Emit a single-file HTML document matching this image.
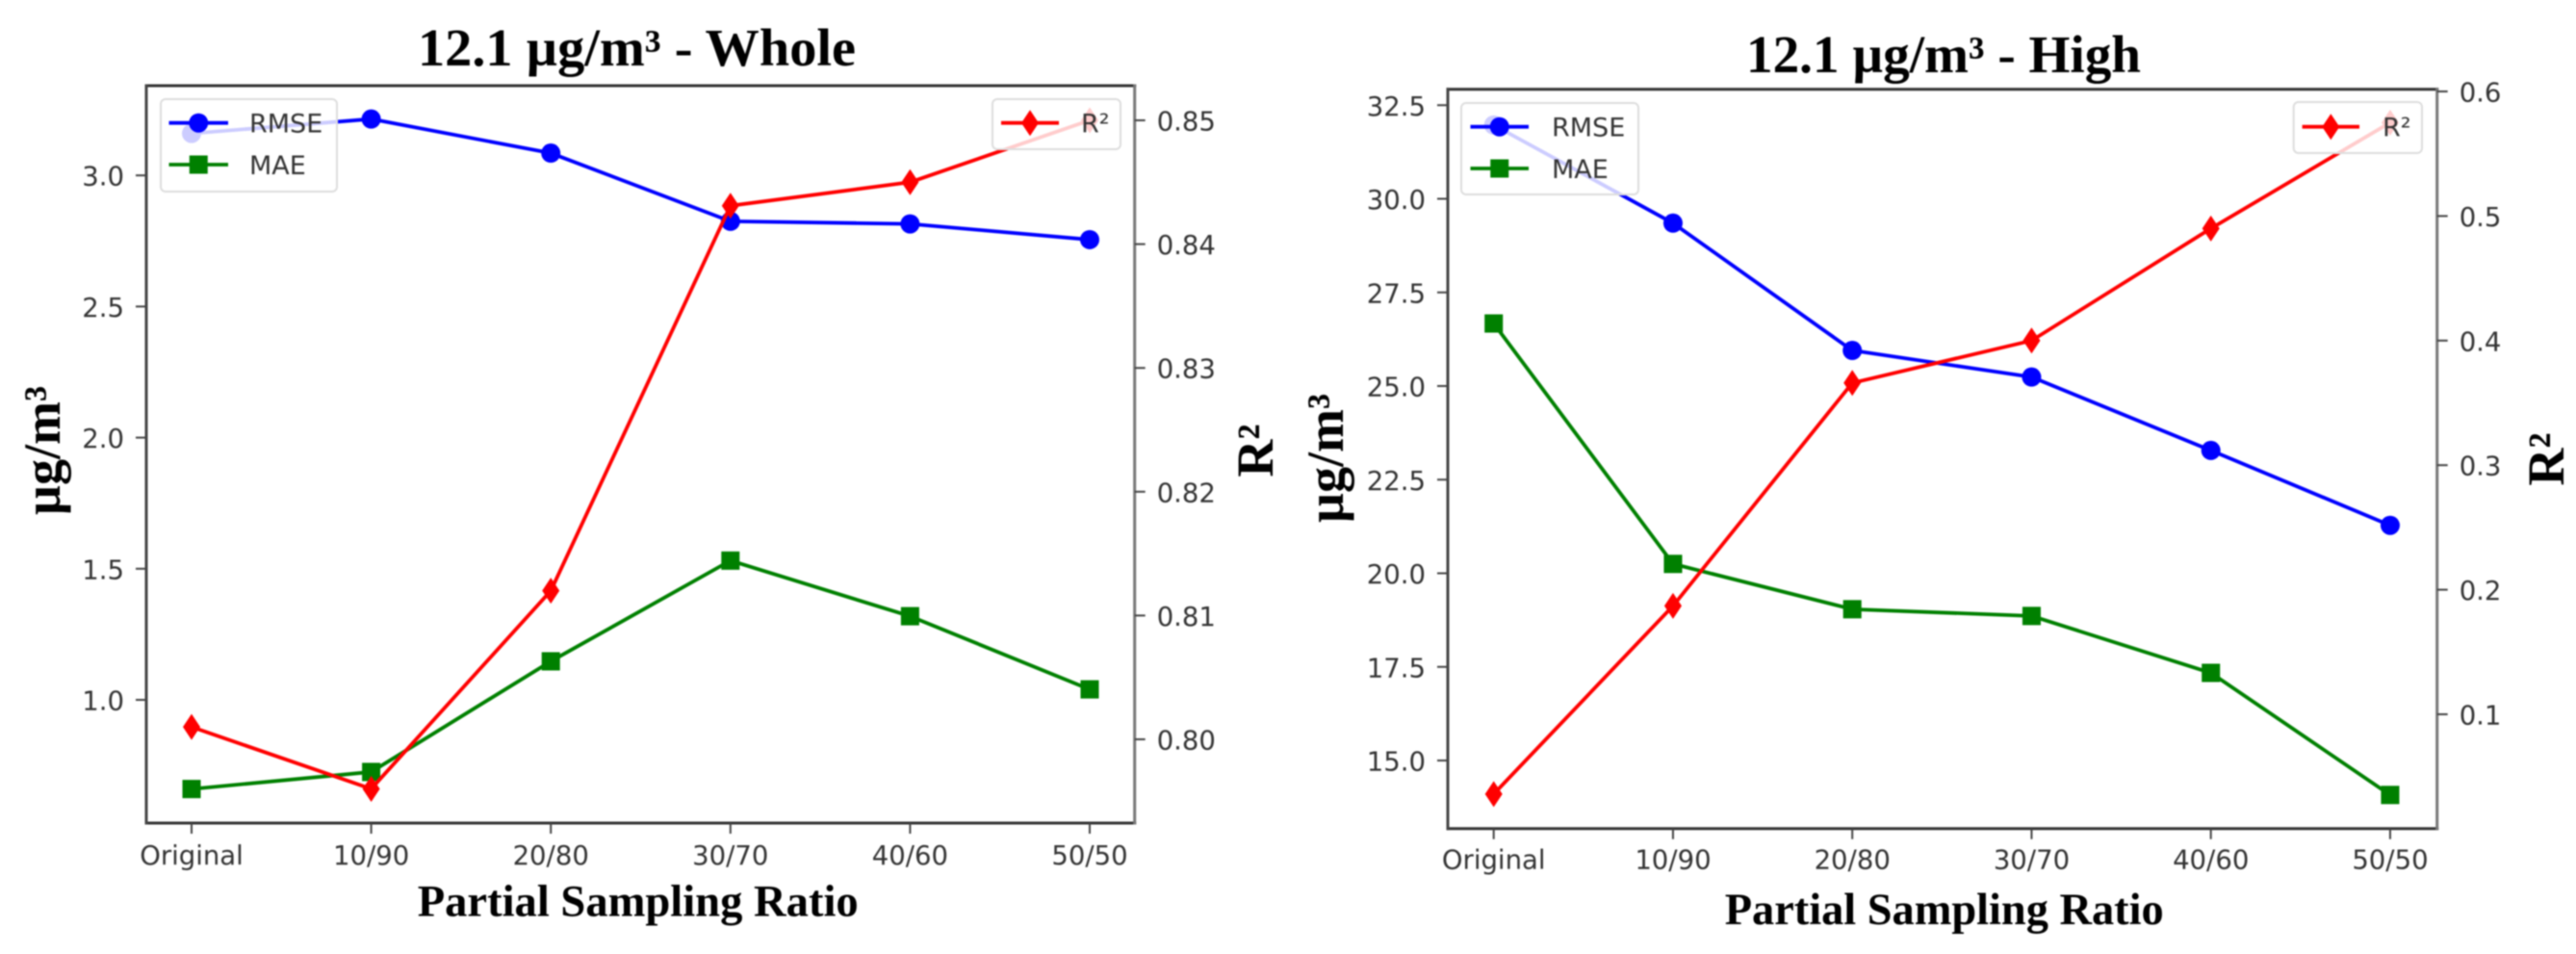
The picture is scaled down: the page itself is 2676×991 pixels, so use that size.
<!DOCTYPE html>
<html>
<head>
<meta charset="utf-8">
<title>12.1 µg/m³ partial sampling ratio charts</title>
<style>
html,body{margin:0;padding:0;background:#fff;}
#figure{display:block;width:2676px;height:991px;filter:blur(0.9px);}
.tick{font-family:"DejaVu Sans",sans-serif;font-size:27.5px;fill:#333;}
.leg{font-family:"DejaVu Sans",sans-serif;font-size:27px;fill:#333;}
.head{font-family:"Liberation Serif",serif;font-weight:bold;fill:#000;}
</style>
</head>
<body>
<svg id="figure" xmlns="http://www.w3.org/2000/svg" width="2676" height="991" viewBox="0 0 2676 991">
  <rect width="2676" height="991" fill="#fff"/>
  <text class="head" x="434" y="68" font-size="55" textLength="455" lengthAdjust="spacingAndGlyphs">12.1 µg/m³ - Whole</text>
  <text class="head" x="1814" y="75" font-size="55" textLength="410" lengthAdjust="spacingAndGlyphs">12.1 µg/m³ - High</text>
  <text class="head" x="433.7" y="951.7" font-size="47" textLength="458" lengthAdjust="spacingAndGlyphs">Partial Sampling Ratio</text>
  <text class="head" x="1791.7" y="960" font-size="47" textLength="456" lengthAdjust="spacingAndGlyphs">Partial Sampling Ratio</text>
  <text class="head" font-size="54" text-anchor="middle" transform="translate(62 468) rotate(-90)">µg/m³</text>
  <text class="head" font-size="54" text-anchor="middle" transform="translate(1395 476) rotate(-90)">µg/m³</text>
  <text class="head" font-size="54" text-anchor="middle" transform="translate(1322 468) rotate(-90)">R²</text>
  <text class="head" font-size="54" text-anchor="middle" transform="translate(2663 477) rotate(-90)">R²</text>
</svg>
<script>
const categories = ["Original", "10/90", "20/80", "30/70", "40/60", "50/50"];

const wholeRmse = [3.16, 3.215, 3.085, 2.825, 2.815, 2.755];
const wholeMae = [0.66, 0.725, 1.147, 1.531, 1.319, 1.04];
const wholeR2 = [0.801, 0.796, 0.812, 0.8431, 0.845, 0.85];

const highRmse = [31.97, 29.35, 25.95, 25.24, 23.28, 21.28];
const highMae = [26.67, 20.25, 19.04, 18.86, 17.34, 14.08];
const highR2 = [0.036, 0.187, 0.366, 0.4, 0.49, 0.575];

const wholeLeftTicks = ["1.0", "1.5", "2.0", "2.5", "3.0"];
const wholeRightTicks = ["0.80", "0.81", "0.82", "0.83", "0.84", "0.85"];
const highLeftTicks = ["15.0", "17.5", "20.0", "22.5", "25.0", "27.5", "30.0", "32.5"];
const highRightTicks = ["0.1", "0.2", "0.3", "0.4", "0.5", "0.6"];

function xWhole(i) { return 199 + i * 186.6; }
function yWholeLeft(v) { return 727 - (v - 1) * 272.4; }
function yWholeRight(v) { return 768 - (v - 0.8) * 12860; }
function xHigh(i) { return 1551.7 + i * 186.25; }
function yHighLeft(v) { return 790 - (v - 15) * 38.9; }
function yHighRight(v) { return 742 - (v - 0.1) * 1294; }

const svg = document.getElementById('figure');
const NS = 'http://www.w3.org/2000/svg';

function make(tag, props) {
  const el = document.createElementNS(NS, tag);
  for (const k in props) el.setAttribute(k, props[k]);
  svg.appendChild(el);
  return el;
}

function marker(shape, x, y, color) {
  let el;
  if (shape === 'circle') {
    el = make('circle', { cx: x, cy: y, r: 10, fill: color });
  } else if (shape === 'square') {
    el = make('rect', { x: x - 9.5, y: y - 9.5, width: 19, height: 19, fill: color });
  } else {
    el = make('polygon', { points: (x - 9) + ',' + y + ' ' + x + ',' + (y - 13.5) + ' ' + (x + 9) + ',' + y + ' ' + x + ',' + (y + 13.5), fill: color });
  }
  return el;
}

function drawSeries(prefix, values, xf, yf, color, shape) {
  const pts = values.map(function (v, i) { return xf(i) + ',' + yf(v); }).join(' ');
  const line = make('polyline', { points: pts, fill: 'none', stroke: color, 'stroke-width': 3.8, 'stroke-linejoin': 'round' });
  
  
  values.forEach(function (v, i) {
    const m = marker(shape, xf(i), yf(v), color);
    
    
  });
}

function drawFrame(prefix, box) {
  const sides = [
    ['top', box.l, box.t, box.r, box.t, '#333'],
    ['bottom', box.l, box.b, box.r, box.b, '#333'],
    ['left', box.l, box.t, box.l, box.b, '#444'],
    ['right', box.r, box.t, box.r, box.b, '#777']
  ];
  sides.forEach(function (s) {
    const sp = make('line', { x1: s[1], y1: s[2], x2: s[3], y2: s[4], stroke: s[5], 'stroke-width': 3, 'stroke-linecap': 'square' });
    
    
  });
}

function drawXAxis(prefix, xf, box, baseline) {
  categories.forEach(function (c, i) {
    const tk = make('line', { x1: xf(i), y1: box.b, x2: xf(i), y2: box.b + 11, stroke: '#444', 'stroke-width': 2 });
    
    
    const lb = make('text', { x: xf(i), y: baseline, 'text-anchor': 'middle', 'class': 'tick' });
    lb.textContent = c;
    
    
  });
}

function drawYAxis(prefix, labels, yf, spineX, side) {
  labels.forEach(function (t) {
    const y = yf(parseFloat(t));
    const tk = make('line', { x1: spineX, y1: y, x2: spineX + side * 11, y2: y, stroke: '#444', 'stroke-width': 2 });
    
    
    const lb = make('text', { x: spineX + side * 23, y: y + 10.5, 'text-anchor': side < 0 ? 'end' : 'start', 'class': 'tick' });
    lb.textContent = t;
    
    
  });
}

function drawLegendBox(prefix, x, y, w, h) {
  const f = make('rect', { x: x, y: y, width: w, height: h, rx: 5, fill: '#fff', 'fill-opacity': 0.8, stroke: '#ddd', 'stroke-width': 2 });
  
  
}

function drawLegendEntry(prefix, label, x1, x2, y, textX, color, shape) {
  const h = make('line', { x1: x1, y1: y, x2: x2, y2: y, stroke: color, 'stroke-width': 3.8 });
  
  
  const m = marker(shape, (x1 + x2) / 2, y, color);
  
  
  const t = make('text', { x: textX, y: y + 10, 'class': 'leg' });
  t.textContent = label;
  
  
}

/* Whole panel */
const wholeBox = { l: 152, r: 1178.7, t: 89, b: 855 };
drawSeries('whole-rmse', wholeRmse, xWhole, yWholeLeft, '#0000ff', 'circle');
drawSeries('whole-mae', wholeMae, xWhole, yWholeLeft, '#008000', 'square');
drawSeries('whole-r2', wholeR2, xWhole, yWholeRight, '#ff0000', 'diamond');
drawFrame('whole', wholeBox);
drawXAxis('whole', xWhole, wholeBox, 898);
drawYAxis('whole-left', wholeLeftTicks, yWholeLeft, wholeBox.l, -1);
drawYAxis('whole-right', wholeRightTicks, yWholeRight, wholeBox.r, 1);
drawLegendBox('whole-error', 167, 103, 183, 96);
drawLegendEntry('whole-rmse', 'RMSE', 175.5, 237, 127.7, 259, '#0000ff', 'circle');
drawLegendEntry('whole-mae', 'MAE', 175.5, 237, 171, 259, '#008000', 'square');
drawLegendBox('whole-r2', 1031, 103, 133, 52);
drawLegendEntry('whole-r2', 'R²', 1040, 1100, 127.7, 1123, '#ff0000', 'diamond');

/* High panel */
const highBox = { l: 1504, r: 2531.7, t: 92.7, b: 860.7 };
drawSeries('high-rmse', highRmse, xHigh, yHighLeft, '#0000ff', 'circle');
drawSeries('high-mae', highMae, xHigh, yHighLeft, '#008000', 'square');
drawSeries('high-r2', highR2, xHigh, yHighRight, '#ff0000', 'diamond');
drawFrame('high', highBox);
drawXAxis('high', xHigh, highBox, 902.7);
drawYAxis('high-left', highLeftTicks, yHighLeft, highBox.l, -1);
drawYAxis('high-right', highRightTicks, yHighRight, highBox.r, 1);
drawLegendBox('high-error', 1518, 107, 184, 95);
drawLegendEntry('high-rmse', 'RMSE', 1527.5, 1588, 131.7, 1612, '#0000ff', 'circle');
drawLegendEntry('high-mae', 'MAE', 1527.5, 1588, 175, 1612, '#008000', 'square');
drawLegendBox('high-r2', 2382.7, 106, 133.3, 53);
drawLegendEntry('high-r2', 'R²', 2391.6, 2451, 131.7, 2475, '#ff0000', 'diamond');
</script>
</body>
</html>
